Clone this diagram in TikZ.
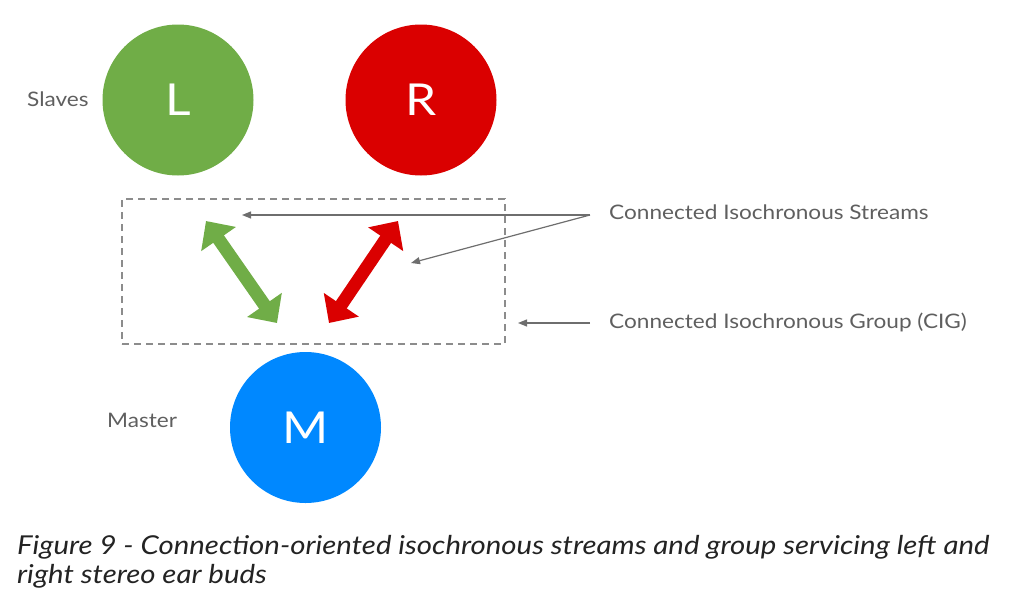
\documentclass[tikz,border=0pt]{standalone}
\usepackage{fontspec}
\setmainfont{Lato}[FakeStretch=1.13]
\usetikzlibrary{arrows.meta}
\definecolor{cgreen}{RGB}{112,173,71}
\definecolor{cred}{RGB}{218,0,0}
\definecolor{cblue}{RGB}{0,136,255}
\definecolor{ctext}{RGB}{95,95,95}
\definecolor{cline}{RGB}{110,110,110}
\definecolor{cbox}{RGB}{140,140,140}
\definecolor{ccap}{RGB}{35,35,35}
\tikzset{
  bud/.style={circle, inner sep=0pt, minimum size=151pt, text=white, font=\fontsize{44}{44}\selectfont},
  lbl/.style={anchor=base west, inner sep=0pt, text=ctext, font=\fontsize{20}{24}\selectfont},
  fat/.style={line width=13pt, {Triangle[length=22pt,width=41pt]}-{Triangle[length=22pt,width=41pt]}},
  leader/.style={draw=cline, line width=1.2pt, -{Triangle[length=9pt,width=7pt]}},
  grp/.style={draw=cbox, line width=1.3pt, dash pattern=on 7pt off 5pt}
}
\begin{document}
\begin{tikzpicture}[x=1pt,y=-1pt]
\useasboundingbox (0,0) rectangle (1015,603);
\node[bud, fill=cgreen] (L) at (178,100) {L};
\node[bud, fill=cred] (R) at (421,100) {R};
\node[bud, fill=cblue] (M) at (305.5,427.5) {M};
\node[lbl] (slaves) at (27,106) {Slaves};
\node[lbl] (master) at (107,427) {Master};
\node[grp, rectangle, minimum width=383pt, minimum height=145pt, inner sep=0pt] (cig) at (313.5,271.5) {};
\coordinate (g1) at (206,221);
\coordinate (g2) at (277,323);
\coordinate (r1) at (329,323);
\coordinate (r2) at (398,221);
\draw[fat, draw=cgreen, fill=cgreen] (g1) -- (g2);
\draw[fat, draw=cred, fill=cred] (r1) -- (r2);
\node[lbl] (cis) at (609,219) {Connected Isochronous Streams};
\node[lbl] (cigl) at (609,328) {Connected Isochronous Group (CIG)};
\coordinate (v1) at (590,215);
\coordinate (v2) at (590,323);
\coordinate (a1) at (242,215);
\coordinate (a2) at (411,263);
\coordinate (a3) at (518,323);
\draw[leader] (v1) -- (a1);
\draw[leader] (v1) -- (a2);
\draw[leader] (v2) -- (a3);
\node[anchor=base west, inner sep=0pt, text=ccap, font=\fontsize{26}{29}\selectfont\itshape, align=left] (cap) at (17,583) {Figure 9 - Connection-oriented isochronous streams and group servicing left and\\right stereo ear buds};
\end{tikzpicture}
\end{document}
